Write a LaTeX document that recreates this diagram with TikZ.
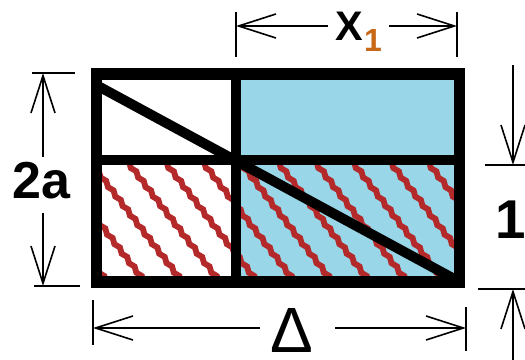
\documentclass[tikz,border=0pt]{standalone}
\usepackage{fontspec}
\setmainfont{Liberation Sans}
\usetikzlibrary{arrows.meta,decorations.pathmorphing}
\definecolor{paleblue}{RGB}{153,215,232}
\definecolor{hatchred}{RGB}{180,42,42}
\definecolor{subor}{RGB}{200,105,25}
\begin{document}
\begin{tikzpicture}[x=0.75pt,y=-0.75pt,
  dim/.style={line width=1.2pt, draw=black},
  dimarrow/.style={dim, -{Straight Barb[length=28pt,width=18pt]}},
  hatch/.style={draw=hatchred, line width=4.4pt, decorate,
    decoration={snake, amplitude=0.9pt, segment length=9pt}},
  lbl/.style={inner sep=0pt, text=black}]
\useasboundingbox (0,0) rectangle (525,360);

% fills
\fill[paleblue] (236,74) rectangle (460,282);

% hatching of lower half
\begin{scope}
  \clip (96,160) rectangle (460,282);
  \foreach \k in {-4,...,9} {
    \draw[hatch] ({130+37.5*\k-70},{165-91}) -- ({130+37.5*\k+120},{165+156});
  }
\end{scope}

% inner lines, diagonal, frame
\draw[line width=7pt] (236,74) -- (236,282);
\draw[line width=7.5pt] (96,160) -- (460,160);
\draw[line width=7.5pt] (98,86) -- (458,281);
\draw[line width=8.5pt, line join=miter] (96.5,74) rectangle (459.5,282);

% labels
\node[lbl, font=\bfseries\fontsize{39}{39}\selectfont] (twoa) at (41.5,181) {2a};
\node[lbl, font=\bfseries\fontsize{31}{31}\selectfont] (xlab) at (349,26) {X};
\node[lbl, font=\bfseries\fontsize{24}{24}\selectfont, text=subor] (xsub) at (373,40) {1};
\node[lbl, font=\bfseries\fontsize{41}{41}\selectfont] (one) at (511,220) {1};
\node[lbl, font=\fontsize{48}{48}\selectfont] (delta) at (292,330) {Δ};

% coordinates of dimension ends
\coordinate (xl) at (236,26);
\coordinate (xr) at (457,26);
\coordinate (xla) at (328,26);
\coordinate (xra) at (389,26);
\coordinate (at) at (43,73);
\coordinate (ab) at (43,286);
\coordinate (ata) at (43,157);
\coordinate (aba) at (43,213);
\coordinate (ot) at (513,165);
\coordinate (ob) at (513,289);
\coordinate (ota) at (513,65);
\coordinate (oba) at (513,362);
\coordinate (dl) at (93,328);
\coordinate (dr) at (466,328);
\coordinate (dla) at (260,328);
\coordinate (dra) at (335,328);

% extension lines
\draw[dim] (236,12) -- (236,57);
\draw[dim] (457,12) -- (457,57);
\draw[dim] (32,73) -- (75,73);
\draw[dim] (34,286) -- (80,286);
\draw[dim] (485,165) -- (527,165);
\draw[dim] (478,289) -- (527,289);
\draw[dim] (93,300) -- (93,345);
\draw[dim] (466,307) -- (466,351);

% dimension arrows
\draw[dimarrow] (xla) -- (xl);
\draw[dimarrow] (xra) -- (xr);
\draw[dimarrow] (ata) -- (at);
\draw[dimarrow] (aba) -- (ab);
\draw[dimarrow] (ota) -- (ot);
\draw[dimarrow] (oba) -- (ob);
\draw[dimarrow] (dla) -- (dl);
\draw[dimarrow] (dra) -- (dr);
\end{tikzpicture}
\end{document}
